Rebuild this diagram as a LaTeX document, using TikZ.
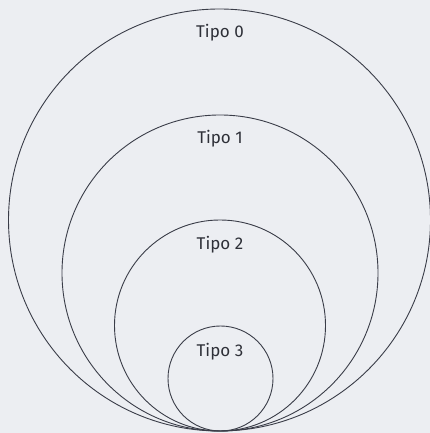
\documentclass[tikz,border=0pt]{standalone}
\usepackage{fontspec}
\setmainfont{Fira Sans}
\definecolor{bg}{HTML}{ECEEF2}
\definecolor{ln}{HTML}{3A3D48}
\definecolor{tx}{HTML}{2E3038}
\begin{document}
\begin{tikzpicture}[x=1pt,y=1pt,
  ring/.style={draw=ln,line width=0.9pt},
  lab/.style={text=tx,font=\fontsize{17}{19}\selectfont,inner sep=0pt}]
\fill[bg] (0,0) rectangle (430,433);
\useasboundingbox (0,0) rectangle (430,433);
\draw[ring] (219.5,213) circle (211);
\draw[ring] (220,160) circle (158);
\draw[ring] (220,107.5) circle (105.5);
\draw[ring] (220.5,54.5) circle (52.5);
\node[lab] (t0) at (220,400) {Tipo 0};
\node[lab] (t1) at (220,294) {Tipo 1};
\node[lab] (t2) at (220,188) {Tipo 2};
\node[lab] (t3) at (220,81) {Tipo 3};
\end{tikzpicture}
\end{document}
